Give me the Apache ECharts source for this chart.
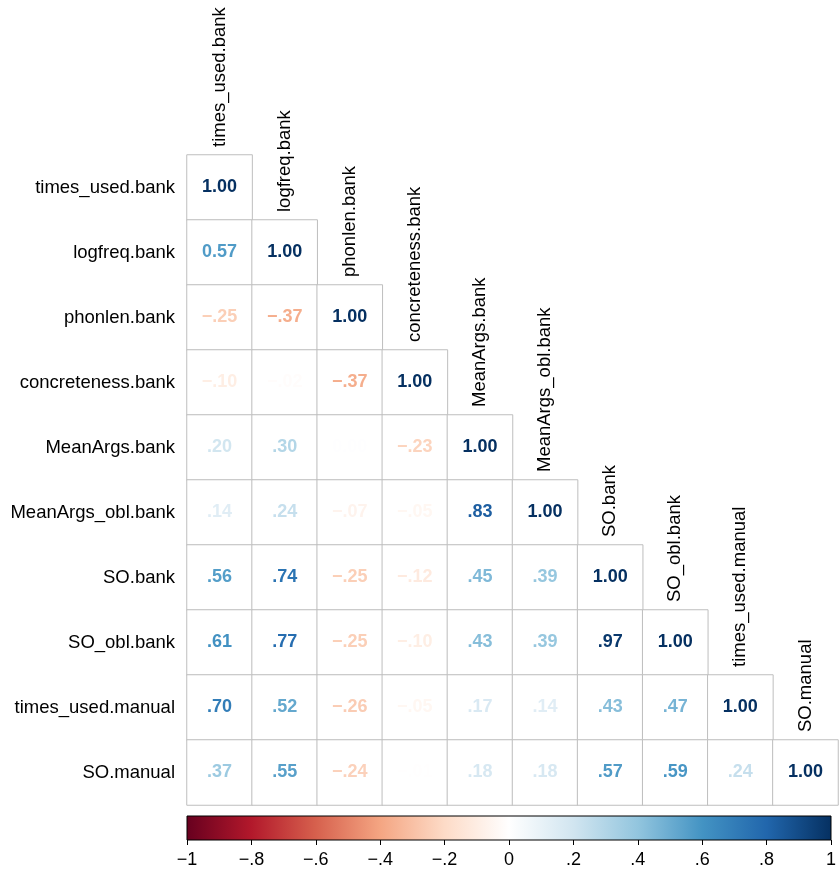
<!DOCTYPE html>
<html>
<head>
<meta charset="utf-8">
<script src="https://cdn.jsdelivr.net/npm/echarts@6/dist/echarts.min.js"></script>
<style>
  html, body { margin: 0; padding: 0; background: #fff; }
  #chart { width: 839px; height: 870px; }
</style>
</head>
<body>
<div id="chart"></div>
<script>
// Variable names (rows top-to-bottom, columns left-to-right)
const variables = [
  'times_used.bank', 'logfreq.bank', 'phonlen.bank', 'concreteness.bank',
  'MeanArgs.bank', 'MeanArgs_obl.bank', 'SO.bank', 'SO_obl.bank',
  'times_used.manual', 'SO.manual'
];

// Lower triangle of the correlation matrix, one array per row
const corrRows = [
  [1.00],
  [0.57, 1.00],
  [-0.25, -0.37, 1.00],
  [-0.10, -0.02, -0.37, 1.00],
  [0.20, 0.30, 0.00, -0.23, 1.00],
  [0.14, 0.24, -0.07, -0.05, 0.83, 1.00],
  [0.56, 0.74, -0.25, -0.12, 0.45, 0.39, 1.00],
  [0.61, 0.77, -0.25, -0.10, 0.43, 0.39, 0.97, 1.00],
  [0.70, 0.52, -0.26, -0.05, 0.17, 0.14, 0.43, 0.47, 1.00],
  [0.37, 0.55, -0.24, -0.01, 0.18, 0.18, 0.57, 0.59, 0.24, 1.00]
];

// Cells printed with a leading zero ([row, col])
const leadingZeroCells = [[1, 0], [4, 2]];

// Colour-bar tick values
const barTicks = [-1, -0.8, -0.6, -0.4, -0.2, 0, 0.2, 0.4, 0.6, 0.8, 1];

// RdBu diverging palette, -1 .. 1
const palette = ['#67001F', '#B2182B', '#D6604D', '#F4A582', '#FDDBC7', '#FFFFFF',
                 '#D1E5F0', '#92C5DE', '#4393C3', '#2166AC', '#053061'];
const paletteSteps = 200;

function hexToRgb(h) {
  return [parseInt(h.slice(1, 3), 16), parseInt(h.slice(3, 5), 16), parseInt(h.slice(5, 7), 16)];
}
// Pick the colour from a 200-step ramp of the palette
function colorFor(v) {
  const k = Math.round((Math.max(-1, Math.min(1, v)) + 1) / 2 * (paletteSteps - 1));
  const t = k / (paletteSteps - 1) * (palette.length - 1);
  const i = Math.min(Math.floor(t), palette.length - 2);
  const f = t - i;
  const a = hexToRgb(palette[i]), b = hexToRgb(palette[i + 1]);
  const c = a.map((x, n) => Math.round(x + (b[n] - x) * f));
  return 'rgb(' + c.join(',') + ')';
}
function formatCorr(v, row, col) {
  if (Math.abs(v) === 1) return (v < 0 ? '\u2212' : '') + '1.00';
  let s = Math.abs(v).toFixed(2);
  const keep = leadingZeroCells.some(p => p[0] === row && p[1] === col);
  if (!keep) s = s.replace(/^0/, '');
  return (v < 0 ? '\u2212' : '') + s;
}
function formatTick(v) {
  const r = Math.round(v * 10) / 10;
  if (r === 0) return '0';
  const s = Math.abs(r).toString().replace(/^0/, '');
  return (r < 0 ? '\u2212' : '') + s;
}

const FONT = '"Liberation Sans", Arial, Helvetica, sans-serif';

const cells = [];
corrRows.forEach((row, r) => {
  row.forEach((v, c) => {
    cells.push({
      value: [c, r, v],
      label: { color: colorFor(v), formatter: formatCorr(v, r, c) }
    });
  });
});

const gradientStops = palette.map((col, i) => ({ offset: i / (palette.length - 1), color: col }));

const chart = echarts.init(document.getElementById('chart'), null, { renderer: 'canvas' });
chart.setOption({
  backgroundColor: '#ffffff',
  animation: false,
  textStyle: { fontFamily: FONT },
  grid: [
    { left: 187, top: 155, width: 651, height: 650, show: false },
    {
      left: 187, top: 816, width: 651, height: 24, show: true,
      backgroundColor: new echarts.graphic.LinearGradient(0, 0, 1, 0, gradientStops),
      borderColor: '#000', borderWidth: 1
    }
  ],
  xAxis: [
    {
      gridIndex: 0, type: 'category', data: variables,
      axisLine: { show: false }, axisTick: { show: false }, axisLabel: { show: false },
      splitLine: { show: false }
    },
    {
      gridIndex: 1, type: 'value', min: -1, max: 1, interval: 0.2, position: 'bottom',
      axisLine: { show: false },
      axisTick: { show: true, length: 5, lineStyle: { color: '#000', width: 1 } },
      axisLabel: {
        show: true, color: '#000', fontSize: 18, margin: 11, fontFamily: FONT,
        formatter: formatTick
      },
      splitLine: { show: false }
    }
  ],
  yAxis: [
    {
      gridIndex: 0, type: 'category', data: variables, inverse: true,
      axisLine: { show: false }, axisTick: { show: false },
      axisLabel: { color: '#000', fontSize: 18.5, margin: 12, fontFamily: FONT },
      splitLine: { show: false }
    },
    { gridIndex: 1, type: 'value', min: 0, max: 1, show: false }
  ],
  series: [
    {
      type: 'heatmap',
      xAxisIndex: 0, yAxisIndex: 0,
      data: cells,
      itemStyle: { color: '#ffffff', borderColor: '#bebebe', borderWidth: 1 },
      label: {
        show: true, fontSize: 18, fontWeight: 'bold', fontFamily: FONT
      },
      emphasis: { disabled: true }
    },
    {
      // Column names drawn vertically above each diagonal cell
      type: 'custom',
      xAxisIndex: 0, yAxisIndex: 0,
      data: variables.map((n, i) => [i, i]),
      renderItem: function (params, api) {
        const i = api.value(0);
        const p = api.coord([i, i]);
        const h = api.size([1, 1])[1];
        return {
          type: 'text',
          x: p[0],
          y: p[1] - h / 2 - 8,
          rotation: Math.PI / 2,
          style: {
            text: variables[i],
            x: 0, y: 0,
            align: 'left', verticalAlign: 'middle',
            fill: '#000', fontSize: 18.5, fontFamily: FONT
          }
        };
      },
      silent: true
    }
  ]
});
</script>
</body>
</html>
